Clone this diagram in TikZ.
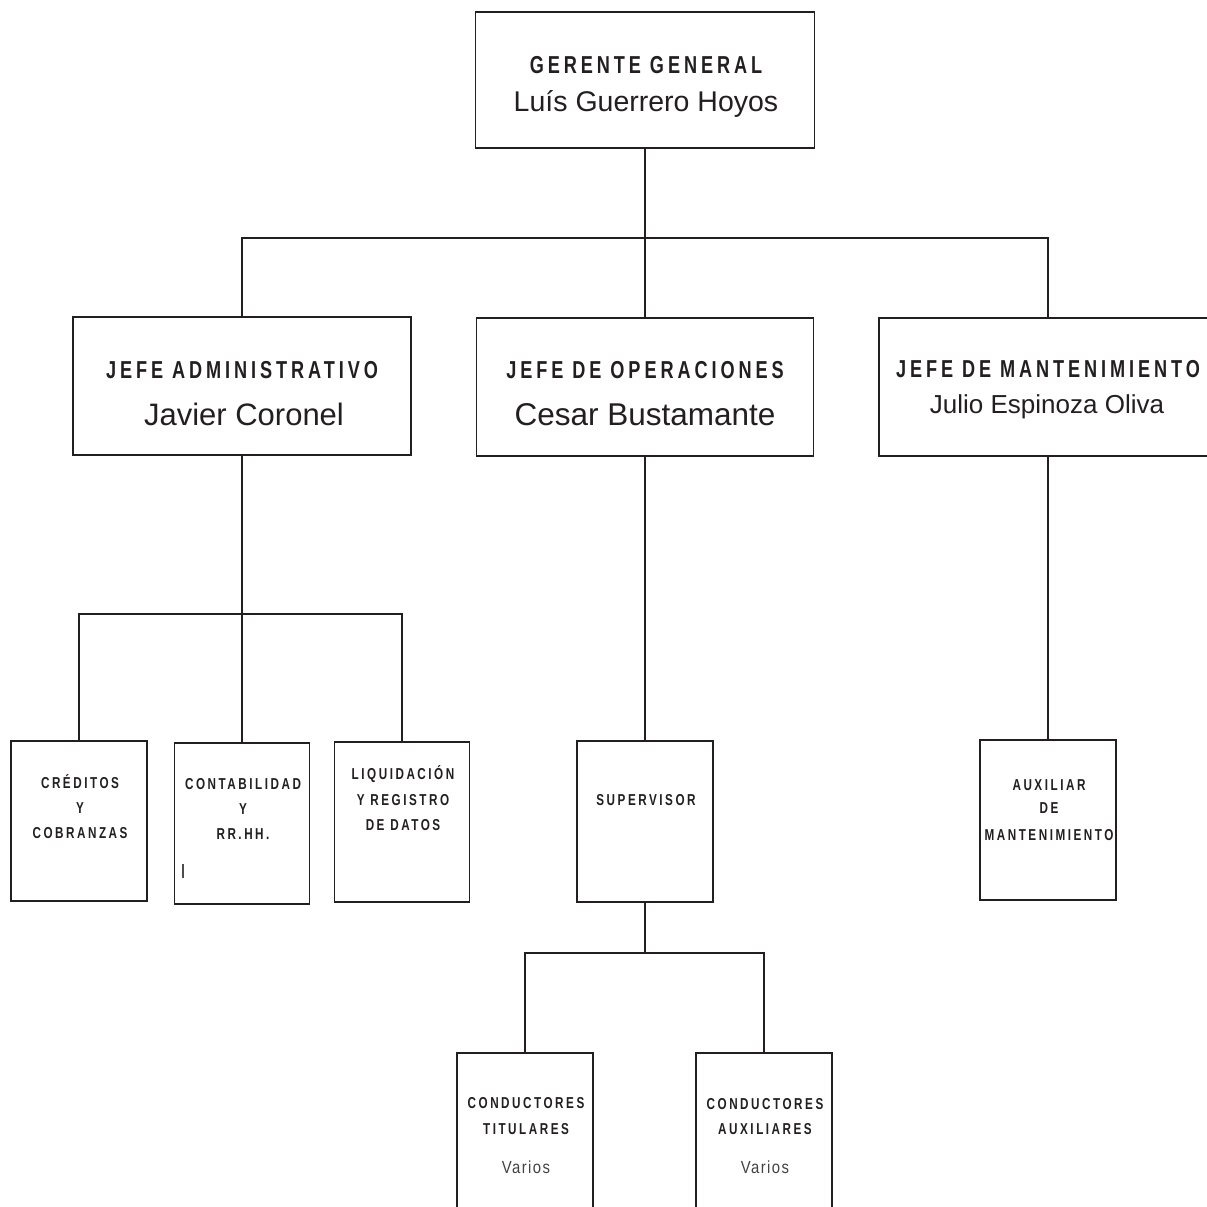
\documentclass[tikz,border=0pt]{standalone}
\usepackage{fontspec}
\setmainfont{Liberation Sans}
\newfontfamily\headfont{Liberation Sans}[FakeStretch=0.74,LetterSpace=16]
\newfontfamily\spacedfont{Liberation Sans}[FakeStretch=0.85,LetterSpace=8]
\definecolor{ink}{HTML}{231F20}
\begin{document}
\begin{tikzpicture}[x=1pt,y=-1pt,
  box/.style={draw=ink, line width=1.3pt, rectangle, inner sep=0pt},
  link/.style={draw=ink, line width=2.8pt},
  txt/.style={inner sep=0pt, anchor=base, text=ink},
  head/.style={txt, font=\headfont\bfseries\fontsize{24.5}{29}\selectfont},
  small/.style={txt, font=\headfont\bfseries\fontsize{15.8}{19}\selectfont},
  varios/.style={txt, text=ink!85, font=\spacedfont\fontsize{17.5}{21}\selectfont}
]
\useasboundingbox (0,0) rectangle (1207,1207);
\clip (0,0) rectangle (1207,1207);
\fill[white] (0,0) rectangle (1207,1207);

% boxes
\node[box, minimum width=339pt, minimum height=136pt] (gg)  at (645,80)   {};
\node[box, minimum width=338pt, minimum height=138pt] (adm) at (242,386)  {};
\node[box, minimum width=337pt, minimum height=138pt] (ope) at (645,387)  {};
\node[box, minimum width=338pt, minimum height=138pt] (man) at (1048,387) {};
\node[box, minimum width=136pt, minimum height=160pt] (cre) at (79,821)   {};
\node[box, minimum width=135pt, minimum height=161pt] (con) at (242,823.5) {};
\node[box, minimum width=135pt, minimum height=160pt] (liq) at (402,822) {};
\node[box, minimum width=136pt, minimum height=161pt] (sup) at (645,821.5) {};
\node[box, minimum width=136pt, minimum height=160pt] (aux) at (1048,820)  {};
\node[box, minimum width=136pt, minimum height=177pt] (tit) at (525,1141.5) {};
\node[box, minimum width=136pt, minimum height=177pt] (cau) at (764,1141.5) {};

% connectors
\coordinate (j1) at (645,238);
\draw[link] (gg.south) -- (j1);
\draw[link] (adm.north) |- (j1) -| (man.north);
\draw[link] (j1) -- (ope.north);

\coordinate (j2) at (242,614);
\draw[link] (adm.south) -- (j2);
\draw[link] (cre.north) |- (j2) -| (liq.north);
\draw[link] (j2) -- (con.north);

\draw[link] (ope.south) -- (sup.north);
\draw[link] (man.south) -- (aux.north);

\coordinate (j3) at (645,953);
\draw[link] (sup.south) -- (j3);
\draw[link] (tit.north) |- (j3) -| (cau.north);

% texts
\node[head] (gg-t) at (646,74) {GERENTE GENERAL};
\node[txt, font=\fontsize{28.5}{34}\selectfont] (gg-n) at (646,111) {Luís Guerrero Hoyos};

\node[head] (adm-t) at (242,378) {JEFE ADMINISTRATIVO};
\node[txt, font=\fontsize{31}{37}\selectfont] (adm-n) at (244,425) {Javier Coronel};

\node[head] (ope-t) at (645,378) {JEFE DE OPERACIONES};
\node[txt, font=\fontsize{31.5}{37}\selectfont] (ope-n) at (645,425) {Cesar Bustamante};

\node[head] (man-t) at (1048,377) {JEFE DE MANTENIMIENTO};
\node[txt, font=\fontsize{26}{31}\selectfont] (man-n) at (1047,413) {Julio Espinoza Oliva};

\node[small] (cre-1) at (80,788) {CRÉDITOS};
\node[small] (cre-2) at (80,813) {Y};
\node[small] (cre-3) at (80,838) {COBRANZAS};

\node[small] (con-1) at (243,789) {CONTABILIDAD};
\node[small] (con-2) at (243,814) {Y};
\node[small] (con-3) at (243,839) {RR.HH.};
\draw[ink!80, line width=1.1pt] (183,864) -- (183,878);

\node[small] (liq-1) at (403,779) {LIQUIDACIÓN};
\node[small] (liq-2) at (403,805) {Y REGISTRO};
\node[small] (liq-3) at (403,830) {DE DATOS};

\node[small] (sup-1) at (646,805) {SUPERVISOR};

\node[small] (aux-1) at (1049,790) {AUXILIAR};
\node[small] (aux-2) at (1049,813) {DE};
\node[small] (aux-3) at (1049,840) {MANTENIMIENTO};

\node[small] (tit-1) at (526,1108) {CONDUCTORES};
\node[small] (tit-2) at (526,1134) {TITULARES};
\node[varios] (tit-3) at (526,1173) {Varios};

\node[small] (cau-1) at (765,1109) {CONDUCTORES};
\node[small] (cau-2) at (765,1134) {AUXILIARES};
\node[varios] (cau-3) at (765,1173) {Varios};
\end{tikzpicture}
\end{document}
